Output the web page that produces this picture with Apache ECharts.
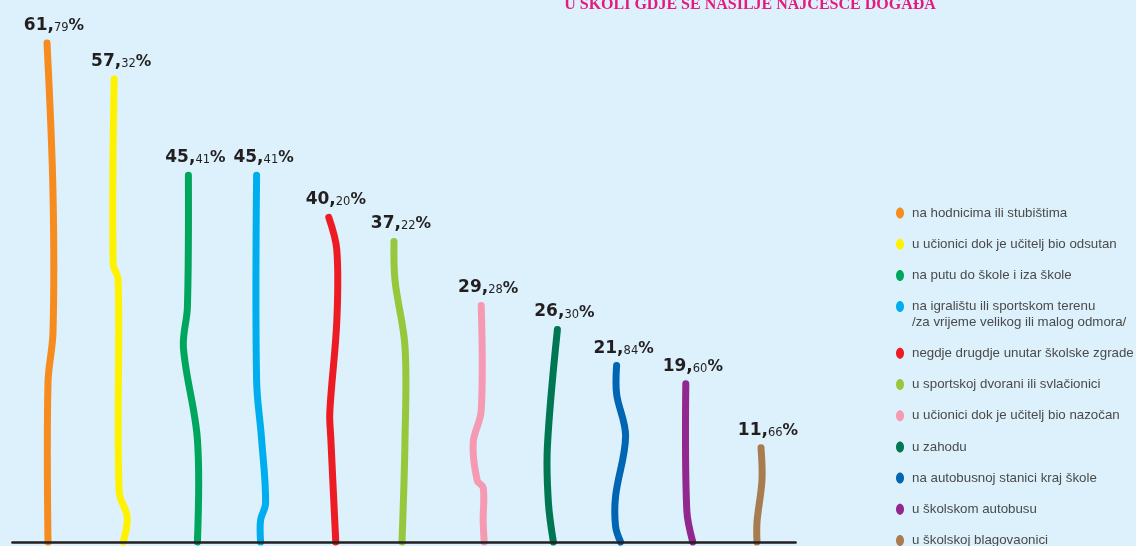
<!DOCTYPE html>
<html>
<head>
    <meta charset="utf-8">
    <title>U školi gdje se nasilje najčešće događa</title>
    <script src="https://cdn.jsdelivr.net/npm/echarts@6/dist/echarts.min.js"></script>
    <style>
        html, body { margin: 0; padding: 0; background: #dcf1fb; }
        #chart { width: 1136px; height: 546px; }
    </style>
</head>
<body>
    <div id="chart"></div>
    <script type="text/javascript">
        var title = 'U ŠKOLI GDJE SE NASILJE NAJČEŠĆE DOGAĐA';
        var categories = [
            'na hodnicima ili stubištima',
            'u učionici dok je učitelj bio odsutan',
            'na putu do škole i iza škole',
            'na igralištu ili sportskom terenu /za vrijeme velikog ili malog odmora/',
            'negdje drugdje unutar školske zgrade',
            'u sportskoj dvorani ili svlačionici',
            'u učionici dok je učitelj bio nazočan',
            'u zahodu',
            'na autobusnoj stanici kraj škole',
            'u školskom autobusu',
            'u školskoj blagovaonici'
        ];
        var values = [61.79, 57.32, 45.41, 45.41, 40.20, 37.22, 29.28, 26.30, 21.84, 19.60, 11.66];
        var colors = ['#f68b1f', '#fff200', '#00a65d', '#00aeef', '#ed1c24', '#97c73d',
                      '#f59ab2', '#007652', '#0066b3', '#92278f', '#a97c50'];

        // hand drawn look: [share of line height from bottom, x shift in px]
        var wiggle = [
            [[0, 0], [0.32, 0], [0.42, 5], [0.70, 5], [1, -1]],
            [[0, 4], [0.054, 8], [0.108, 0], [0.567, -1], [0.60, -6], [1, -5]],
            [[0, 7], [0.28, 7], [0.53, -7], [0.64, -3], [1, -2]],
            [[0, -1], [0.06, -1], [0.106, 4], [0.28, 0], [0.44, -5], [1, -5]],
            [[0, 3], [0.32, -2], [0.40, -3], [0.68, 4], [0.90, 4], [1, -4]],
            [[0, -2], [0.34, 1], [0.65, 1], [0.87, -9], [1, -10]],
            [[0, 9], [0.09, 8], [0.23, 8], [0.26, 2], [0.42, -2], [0.555, 6], [1, 6]],
            [[0, 7], [0.185, 2], [0.45, 1], [1, 11]],
            [[0, 3], [0.087, -2], [0.26, -2], [0.6, 8], [0.84, -1], [1, -1]],
            [[0, 4], [0.2, -2], [1, -3]],
            [[0, -3], [0.21, -3], [0.66, 2], [1, 1]]
        ];

        var chart = echarts.init(document.getElementById('chart'));

        function labelText(v) {
            var s = v.toFixed(2).split('.');
            return '{a|' + s[0] + ',}{b|' + s[1] + '}{c|%}';
        }

        // legend on the right, built by hand (ovals + two line item)
        var legend = [];
        categories.forEach(function (name, k) {
            var cy = 213 + k * 31.2 + (k > 3 ? 15.5 : 0);
            legend.push({
                type: 'ellipse',
                shape: { cx: 900, cy: cy, rx: 4, ry: 5.5 },
                style: { fill: colors[k] }
            });
            legend.push({
                type: 'text',
                x: 912,
                y: cy - 8,
                style: {
                    text: name.replace(' /za', '\n/za'),
                    fill: '#4a4a4a',
                    fontFamily: 'Liberation Sans',
                    fontSize: 13.3,
                    lineHeight: 16,
                    verticalAlign: 'top'
                }
            });
        });
        legend.push({
            type: 'text',
            x: 750,
            y: 13,
            style: {
                text: title,
                fill: '#e6197f',
                fontFamily: 'Liberation Serif',
                fontWeight: 'bold',
                fontSize: 16,
                align: 'center',
                verticalAlign: 'bottom'
            }
        });

        var option = {
            backgroundColor: '#dcf1fb',
            animation: false,
            grid: { left: 12.4, right: 340.4, top: 17, bottom: 4 },
            xAxis: {
                type: 'category',
                data: categories,
                z: 5,
                axisLine: { lineStyle: { color: '#231f20', width: 2.5 } },
                axisTick: { show: false },
                axisLabel: { show: false },
                splitLine: { show: false }
            },
            yAxis: {
                type: 'value',
                min: 0,
                max: 65,
                show: false
            },
            graphic: legend,
            series: [{
                type: 'custom',
                clip: false,
                data: values.map(function (v, i) { return [i, v]; }),
                encode: { x: 0, y: 1 },
                renderItem: function (params, api) {
                    var i = api.value(0);
                    var base = api.coord([i, 0]);
                    var top = api.coord([i, api.value(1)]);
                    var h = base[1] - top[1];
                    var pts = wiggle[i].map(function (p) {
                        return [base[0] + p[1], base[1] - p[0] * h];
                    });
                    var tip = pts[pts.length - 1];
                    return {
                        type: 'group',
                        children: [{
                            type: 'polyline',
                            shape: { points: pts, smooth: 0.35 },
                            style: {
                                stroke: colors[i],
                                fill: null,
                                lineWidth: 7,
                                lineCap: 'round',
                                lineJoin: 'round'
                            }
                        }, {
                            type: 'text',
                            x: tip[0] + 7,
                            y: tip[1] - 9,
                            style: {
                                text: labelText(values[i]),
                                align: 'center',
                                verticalAlign: 'bottom',
                                rich: {
                                    a: {
                                        fontFamily: 'DejaVu Sans',
                                        fontWeight: 'bold',
                                        fontSize: 17,
                                        lineHeight: 17,
                                        fill: '#231f20',
                                        verticalAlign: 'bottom'
                                    },
                                    b: {
                                        fontFamily: 'DejaVu Sans',
                                        fontSize: 11.5,
                                        lineHeight: 13.4,
                                        fill: '#231f20',
                                        verticalAlign: 'bottom'
                                    },
                                    c: {
                                        fontFamily: 'DejaVu Sans',
                                        fontWeight: 'bold',
                                        fontSize: 15.5,
                                        lineHeight: 16,
                                        fill: '#231f20',
                                        verticalAlign: 'bottom'
                                    }
                                }
                            }
                        }]
                    };
                }
            }]
        };

        chart.setOption(option);
    </script>
</body>
</html>
